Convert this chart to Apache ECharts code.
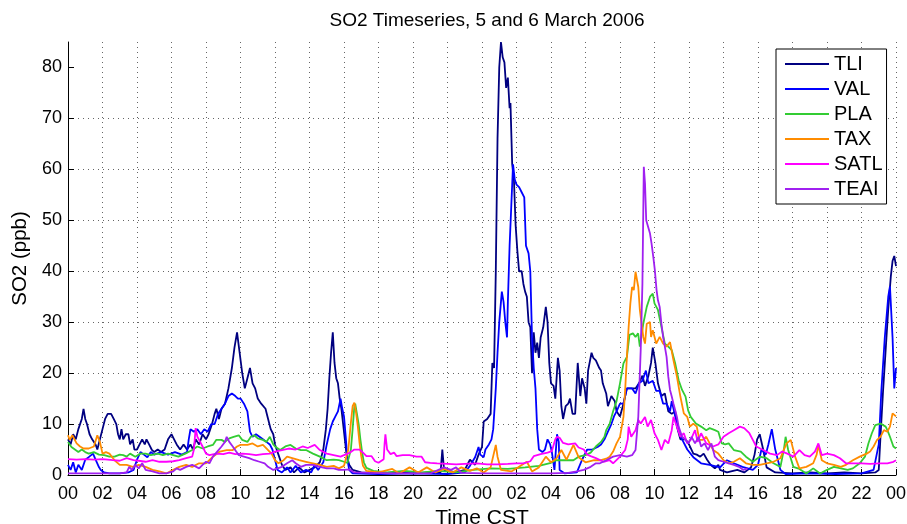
<!DOCTYPE html>
<html>
<head>
<meta charset="utf-8">
<script src="https://cdn.jsdelivr.net/npm/echarts@6/dist/echarts.min.js"></script>
<style>html,body{margin:0;padding:0;background:#fff}#c{width:907px;height:524px}</style>
</head>
<body>
<div id="c"></div>
<script>
// hours since 00 CST on 5 March 2006, SO2 in ppb
const TLI = [[0,7],[0.15,6],[0.3,8],[0.45,7],[0.6,9],[0.8,11],[0.9,13],[1.0,11],[1.1,10],[1.25,8],[1.4,7],[1.6,6],[1.7,5],[1.85,7],[2.0,9],[2.15,11],[2.3,12],[2.5,12],[2.65,11],[2.8,10],[2.9,8],[3.0,7],[3.1,9],[3.2,7],[3.35,8],[3.5,8],[3.6,6],[3.75,7],[3.85,5],[4.0,5],[4.15,6],[4.3,7],[4.45,6],[4.55,7],[4.7,6],[4.85,5],[5.0,4.5],[5.2,5],[5.4,4.5],[5.6,5],[5.8,7],[6.0,8],[6.15,7],[6.3,6],[6.5,5],[6.7,6],[6.9,5],[7.1,6],[7.25,5],[7.4,7],[7.6,6],[7.8,8],[8.0,7],[8.15,8],[8.35,10],[8.5,12],[8.6,13],[8.75,11],[8.9,13],[9.1,14],[9.3,17],[9.5,21],[9.65,25],[9.8,28],[9.95,24],[10.1,20],[10.25,17],[10.4,19],[10.55,21],[10.7,18],[10.85,17],[11.0,15],[11.2,14],[11.45,13],[11.6,11],[11.75,9],[11.9,8],[12.0,6],[12.2,4],[12.4,2],[12.6,1],[12.9,1.5],[13.1,0.5],[13.4,1.5],[13.7,0.5],[14.0,1],[14.3,1.5],[14.6,2.5],[14.8,5],[14.95,9],[15.05,13],[15.15,19],[15.25,24],[15.35,28],[15.45,22],[15.55,19],[15.65,18],[15.75,15],[15.85,13],[15.95,10],[16.05,7],[16.15,4],[16.3,2],[16.5,1],[17.0,0.5],[18,0.3],[19,0.5],[20,0.3],[21,0.5],[21.6,0.5],[21.7,5],[21.8,1],[22.5,0.5],[23.0,1],[23.3,3],[23.6,2],[23.8,4],[24.0,5.5],[24.1,10.5],[24.3,11],[24.5,12],[24.6,22],[24.7,21],[24.8,40],[24.9,66],[25.0,80],[25.1,85],[25.2,82],[25.3,81],[25.4,76],[25.5,78],[25.6,72],[25.65,73],[25.75,61],[25.85,58],[25.95,49],[26.05,44],[26.15,40],[26.3,40],[26.4,37.5],[26.5,36],[26.6,35],[26.7,30],[26.8,29],[26.9,20],[27.0,28],[27.1,24],[27.2,26],[27.3,23],[27.4,27],[27.55,29],[27.7,33],[27.8,30],[27.9,22],[28.0,18],[28.15,17.5],[28.25,15],[28.4,23],[28.5,20.5],[28.6,13.5],[28.7,11],[28.85,13.5],[29.0,14],[29.1,15],[29.25,12],[29.4,12],[29.55,22],[29.7,15.5],[29.8,19],[29.95,17],[30.05,14],[30.15,20.5],[30.35,24],[30.45,23],[30.6,22.5],[30.8,21],[30.9,20.5],[31.0,18],[31.2,16],[31.3,13.5],[31.5,15.5],[31.7,14.5],[31.8,12.5],[32.0,11.5],[32.2,14],[32.4,17],[32.6,17],[32.9,17],[33.1,18],[33.3,19.5],[33.45,17.5],[33.65,19.5],[33.8,22],[33.9,25],[34.05,22],[34.2,18],[34.4,15.5],[34.6,16],[34.8,12.5],[35.0,12],[35.2,12.5],[35.3,9.5],[35.5,7],[35.8,7],[36.0,6],[36.25,4.2],[36.45,4],[36.65,3.6],[36.85,4.2],[37.05,3],[37.25,2],[37.5,1.3],[37.7,2],[37.8,1],[38.2,0.5],[38.8,1],[39.2,0.5],[39.6,1.5],[39.8,4],[39.95,7],[40.1,8],[40.3,5],[40.5,1.5],[41.0,0.5],[42,0.3],[43,0.5],[44,0.3],[45,0.5],[46,0.3],[46.8,0.5],[47.0,1],[47.1,7.5],[47.25,16.5],[47.4,24.5],[47.55,32.5],[47.7,39],[47.8,42],[47.9,43],[48,41]];
const VAL = [[0,2],[0.15,1],[0.3,2.5],[0.45,0.5],[0.6,2],[0.8,1],[1.0,3],[1.2,3.5],[1.45,4.2],[1.6,3],[1.8,1.5],[1.9,1],[2.1,0.5],[2.4,0.3],[3.0,0.3],[3.5,0.5],[3.8,1],[4.0,3],[4.2,4.5],[4.4,4],[4.6,3.5],[4.8,4.5],[5.0,4],[5.4,4.5],[5.8,4],[6.2,4.5],[6.6,4],[6.9,4.5],[7.0,7],[7.1,9],[7.3,8.5],[7.5,9],[7.7,8],[7.9,9],[8.1,8.5],[8.3,10],[8.5,10],[8.7,12],[8.9,13],[9.1,14],[9.3,15.5],[9.5,16],[9.7,15.5],[9.85,15],[10.0,15],[10.2,14],[10.4,12.5],[10.55,8.5],[10.7,7.5],[10.9,8],[11.1,7.5],[11.3,7],[11.5,6.5],[11.7,6],[11.85,5],[12.0,3],[12.15,1],[12.4,0.5],[12.7,1.5],[12.9,0.5],[13.2,1.8],[13.5,0.5],[13.8,1],[14.1,0.5],[14.3,2],[14.5,1],[14.8,2.5],[15.0,6],[15.2,9],[15.35,10.5],[15.5,11.5],[15.65,12.5],[15.8,15],[15.9,13],[16.0,11.5],[16.1,7.5],[16.2,3],[16.3,1],[16.5,0.3],[18,0.2],[20,0.3],[22,0.2],[23.0,0.5],[23.3,1.8],[23.6,3.5],[23.8,5.5],[23.9,4],[24.1,3.5],[24.2,5],[24.4,6],[24.55,7],[24.65,9],[24.8,17],[24.9,24],[25.0,30],[25.15,36],[25.25,34],[25.35,30],[25.45,27],[25.5,34],[25.6,45],[25.7,53],[25.8,61],[25.9,58],[26.0,57],[26.15,56.5],[26.3,55.5],[26.45,54.5],[26.55,45],[26.7,43.5],[26.8,40],[26.9,27],[27.0,21],[27.1,17],[27.2,9],[27.3,5],[27.5,4.5],[27.65,5],[27.8,7],[27.95,6],[28.05,4.5],[28.2,1],[28.35,8],[28.45,6.5],[28.5,1],[28.8,0.3],[29.5,0.5],[29.8,3],[30.1,5],[30.4,5],[30.7,5.5],[30.9,6],[31.1,7],[31.3,8.5],[31.5,10],[31.65,11.5],[31.8,12.5],[32.0,14],[32.2,14],[32.4,17],[32.7,17],[32.9,16],[33.1,18],[33.3,18.5],[33.5,20.5],[33.65,18],[33.9,18.5],[34.1,16.5],[34.3,16.5],[34.5,14],[34.7,14],[34.9,12.5],[35.0,14.5],[35.2,11.5],[35.4,8.5],[35.6,7],[35.9,5],[36.25,3.5],[36.7,2.3],[37.2,2],[37.8,1.5],[38.2,2.9],[38.6,2.3],[39.1,1.6],[39.7,1],[40.0,2],[40.2,5],[40.45,4],[40.6,6],[40.8,9],[41.0,5],[41.3,1],[41.6,0.2],[43,0.3],[44.5,0.2],[46.0,0.3],[46.7,1],[47.0,6],[47.15,16.5],[47.35,27],[47.55,35],[47.65,37],[47.8,27],[47.9,17],[48,21]];
const PLA = [[0,6.5],[0.2,5.5],[0.4,5],[0.6,4.5],[0.8,5],[1.0,4.5],[1.2,4.2],[1.5,4.5],[1.8,4],[2.1,3.9],[2.4,3.6],[2.7,3.6],[3.0,4],[3.2,3.9],[3.4,3.6],[3.6,4.2],[3.9,3.6],[4.2,4.2],[4.5,4.2],[4.8,3.9],[5.2,4.2],[5.5,3.9],[5.8,4.2],[6.1,3.9],[6.4,3.6],[6.8,4.2],[7.2,4.9],[7.5,5.6],[7.8,5.2],[8.1,5.6],[8.4,5.9],[8.6,6.9],[8.9,6.9],[9.1,6.5],[9.35,7.2],[9.6,7.5],[9.9,7.8],[10.1,6.9],[10.4,6.5],[10.6,7.5],[10.8,7.8],[11.0,7.2],[11.3,6.9],[11.5,6.5],[11.7,7.5],[11.9,6],[12.0,5.6],[12.3,4.9],[12.6,5.6],[12.9,5.9],[13.2,5.2],[13.5,4.9],[13.8,4.9],[14.2,4.2],[14.6,3.6],[15.0,2.9],[15.4,3],[15.7,2.9],[16.0,2.6],[16.2,2.4],[16.4,5],[16.5,9],[16.6,13.5],[16.65,14],[16.75,12],[16.85,10],[16.95,7],[17.05,4.5],[17.15,2.5],[17.3,1.4],[17.7,0.8],[18.5,0.5],[19.5,0.8],[20.5,0.5],[21.5,0.8],[22.5,0.5],[23.5,1],[24.5,1.3],[25.5,1.2],[26.5,1.5],[27.3,1.8],[28.0,2.4],[28.3,2.9],[28.8,2.9],[29.3,2.9],[29.6,3.6],[30.0,3.9],[30.3,4.4],[30.6,5.6],[30.9,6.5],[31.1,7.5],[31.2,8.8],[31.4,10],[31.6,12.5],[31.8,14.5],[32.0,18],[32.2,21.9],[32.4,23.2],[32.55,27.5],[32.75,27.8],[32.9,27.1],[33.05,27.8],[33.15,25.2],[33.35,29.7],[33.55,33],[33.74,35],[33.9,35.6],[34.0,33.7],[34.2,32.4],[34.4,29.1],[34.6,25.8],[34.8,25.2],[35.0,24.5],[35.2,21.9],[35.4,18.6],[35.6,16.7],[35.8,15.4],[35.95,12.7],[36.1,11.4],[36.4,10.1],[36.7,9.5],[37.0,8.8],[37.2,9.2],[37.5,8.8],[37.7,8.5],[37.9,6.2],[38.1,6],[38.3,6.2],[38.6,4.9],[39.0,4.6],[39.3,3.6],[39.7,2.6],[40.1,3.6],[40.5,3.3],[40.9,2.3],[41.3,1.6],[41.5,5],[41.6,7.5],[41.75,4.9],[42.05,1.6],[42.4,1.2],[42.8,0.3],[43.2,1.3],[43.6,0.3],[44.0,1],[44.4,1.6],[44.8,1.3],[45.2,1],[45.5,1.3],[45.9,2.3],[46.2,3.6],[46.4,6.2],[46.6,8.2],[46.8,9.8],[47.1,10.1],[47.4,9.5],[47.5,8.8],[47.65,7.5],[47.85,5.6],[48,5.2]];
const TAX = [[0,7.8],[0.1,6.9],[0.25,7.8],[0.5,6.2],[0.7,5.6],[0.9,5.2],[1.2,5.2],[1.5,5.6],[1.7,7.8],[1.85,6.5],[2.0,4.2],[2.2,4.5],[2.4,4.2],[2.7,2.9],[3.0,2],[3.4,2],[3.75,1.6],[4.1,2],[4.5,1.6],[4.9,1],[5.3,0.7],[5.7,0.3],[6.1,1],[6.45,1.6],[6.85,2],[7.2,1.6],[7.6,2.3],[8.0,2.3],[8.4,3.6],[8.8,4.6],[9.2,4.9],[9.55,4.9],[9.8,5.6],[10.0,5.9],[10.4,5.9],[10.7,6.2],[11.0,5.6],[11.3,5.9],[11.6,4.9],[11.8,4.2],[12.0,2.9],[12.2,2.3],[12.5,2.9],[12.7,3.6],[13.0,3.3],[13.4,2.9],[13.8,2.6],[14.2,2.3],[14.6,2],[15.0,1.6],[15.4,1.8],[15.7,1.3],[16.0,1.8],[16.25,5],[16.4,10.3],[16.5,13.5],[16.6,14.2],[16.7,12.2],[16.8,9.6],[16.9,6.3],[17.0,3.7],[17.1,1.8],[17.3,0.8],[18,0.5],[18.8,1.2],[19.2,0.3],[19.8,1.5],[20.3,0.5],[20.8,1.5],[21.3,0.5],[21.8,1.2],[22.3,0.5],[22.8,1.5],[23.3,0.8],[23.7,1.3],[24.1,0.5],[24.5,1.5],[24.8,5.9],[24.9,3.6],[25.1,1],[25.7,0.7],[26.1,1.5],[26.6,2.6],[26.9,0.7],[27.3,1.5],[27.7,3.6],[28.0,2.5],[28.3,3.2],[28.6,4.9],[28.9,3],[29.3,5.9],[29.6,3.5],[30.0,2.5],[30.5,2.9],[30.9,2.9],[31.2,3.2],[31.4,3.6],[31.6,4.6],[31.8,6.2],[32.0,7.5],[32.2,11.4],[32.3,16.7],[32.4,23.2],[32.5,29],[32.6,33.7],[32.7,36.9],[32.8,36.3],[32.9,39.9],[33.0,40.2],[33.06,36.9],[33.15,32.4],[33.25,29.7],[33.35,27.1],[33.45,25.8],[33.55,29.7],[33.74,30],[33.8,27.1],[33.9,28.4],[34.1,25.8],[34.3,27.1],[34.5,25.8],[34.7,25.2],[34.9,26.1],[35.1,22.5],[35.3,19.3],[35.5,15.4],[35.7,12.1],[35.9,11.4],[36.05,9.5],[36.25,10.1],[36.45,9.5],[36.6,6.9],[36.8,6.9],[37.0,7.5],[37.2,6.2],[37.4,4.9],[37.7,4.2],[38.0,2.9],[38.3,2.3],[38.6,2.6],[38.95,3.3],[39.3,2.3],[39.7,2],[40.1,2],[40.5,2.3],[40.9,2.6],[41.3,3.3],[41.5,5],[41.66,6.2],[41.9,6.9],[42.15,3.6],[42.4,1.3],[42.8,1.6],[43.2,2.3],[43.4,4],[43.5,5.9],[43.7,2.9],[44.0,2.3],[44.4,2],[44.8,1.6],[45.1,2],[45.5,2.9],[45.9,3.6],[46.3,4.2],[46.5,4.6],[46.7,5.6],[46.9,6.9],[47.1,7.5],[47.3,8.8],[47.5,8.5],[47.65,9.5],[47.8,12.1],[47.9,12.1],[48,11.5]];
const SATL = [[0,3.1],[0.5,3],[1.0,3.1],[1.5,3],[2.0,3.1],[2.6,2.9],[3.0,2.8],[3.4,3.3],[3.8,2.9],[4.1,2.8],[4.5,2.6],[4.9,2.9],[5.3,2.6],[5.7,2.6],[6.1,2.7],[6.45,2.9],[6.85,3.3],[7.2,3.6],[7.3,5],[7.4,9.2],[7.5,7.5],[7.6,6.9],[7.8,5.6],[8.0,4.2],[8.2,3.9],[8.6,4.2],[9.0,4.1],[9.35,4.4],[9.7,4.1],[10.1,4.2],[10.5,4.1],[10.9,3.9],[11.3,4.1],[11.7,4.2],[12.0,4.6],[12.4,4.9],[12.8,5.2],[13.2,5],[13.6,5.6],[13.9,5.3],[14.3,5.9],[14.6,4.9],[15.0,4.2],[15.4,3.9],[15.8,3.6],[16.0,3.9],[16.35,4.4],[16.6,5],[16.9,5],[17.1,4.4],[17.3,3.7],[17.6,3.7],[17.8,2.7],[18.0,2.4],[18.3,3.1],[18.35,6],[18.4,8],[18.5,5],[18.7,4.1],[18.9,4.4],[19.05,3.7],[19.4,3.9],[19.8,3.9],[20.2,3.6],[20.5,3.6],[20.7,2.5],[21.0,2.4],[21.4,2.3],[22.0,2.2],[22.5,2.1],[23.0,2.2],[23.7,2.3],[24.3,2.1],[24.9,2.1],[25.5,2.2],[26.0,2.3],[26.4,2.3],[26.8,2.7],[27.0,3.7],[27.4,4.1],[27.8,4.4],[28.05,4.7],[28.25,7],[28.35,7.5],[28.5,7.3],[28.7,6.3],[29.0,6],[29.4,6.2],[29.6,5.4],[29.9,5],[30.1,4],[30.3,3.7],[30.6,3.3],[31.05,2.6],[31.4,2.9],[31.6,2.3],[32.0,3.6],[32.3,4.9],[32.45,7],[32.5,9.5],[32.65,7.5],[32.9,8.8],[33.06,10.8],[33.2,10.1],[33.45,11.4],[33.6,9.5],[33.8,10.8],[34.0,8.2],[34.2,6.9],[34.4,4.9],[34.6,6.9],[34.8,6.2],[35.0,8.8],[35.1,11.4],[35.3,9.5],[35.5,7.5],[35.7,8.2],[35.9,6.2],[36.1,6.9],[36.35,8.8],[36.5,6.5],[36.7,8.2],[37.0,6.2],[37.4,5.6],[37.7,6],[38.0,7.5],[38.3,8.2],[38.6,8.8],[38.95,9.5],[39.2,9.2],[39.5,8.2],[39.7,6.9],[39.9,5.6],[40.3,4.9],[40.7,4.2],[41.1,3.9],[41.4,4.6],[41.7,4.2],[42.05,3.6],[42.4,4.9],[42.7,3.9],[43.0,3.6],[43.3,4.6],[43.5,6.2],[43.7,3.9],[44.0,4.2],[44.4,3.9],[44.75,3.3],[45.1,2.3],[45.5,2.3],[46.0,2.3],[46.5,2.2],[47.0,2.3],[47.5,2.3],[47.85,2.6],[48,2.9]];
const TEAI = [[0,0.3],[1,0.3],[2,0.3],[3,0.3],[3.4,0.5],[3.55,1.6],[3.7,1],[3.9,2],[4.1,1.3],[4.3,2.3],[4.5,1],[4.9,0.7],[5.3,0.3],[5.7,0.3],[6.1,0.7],[6.3,1.3],[6.5,1],[6.85,1.6],[7.2,2],[7.6,1.3],[7.8,2],[8.0,2.6],[8.2,2.3],[8.4,3.6],[8.65,4.6],[8.9,5.6],[9.1,6.5],[9.2,7.5],[9.35,6.5],[9.55,5.6],[9.75,4.6],[9.9,3.9],[10.2,3.6],[10.5,3.3],[10.8,2.9],[11.1,2.6],[11.4,2.3],[11.6,1.6],[11.9,1],[12.15,1.3],[12.4,1.6],[12.7,2.3],[13.0,2.9],[13.2,2.3],[13.5,1.6],[13.8,2],[14.2,2],[14.6,1.6],[15.0,1.3],[15.4,1.3],[15.7,1],[16.0,1],[16.3,1.1],[16.6,0.5],[17.5,0.4],[19,0.3],[21,0.3],[21.8,1.5],[22.2,1],[22.5,1.5],[22.8,0.4],[24,0.3],[26,0.3],[28,0.3],[29.0,0.4],[29.5,0.7],[29.9,1],[30.3,1.6],[30.6,2.3],[30.84,2.3],[31.2,2.9],[31.6,3.6],[32.0,3.9],[32.4,3.6],[32.7,3.9],[32.9,4.9],[33.06,11.4],[33.2,24.5],[33.3,37.6],[33.38,60.5],[33.45,57.2],[33.52,50],[33.62,50],[33.74,47.4],[33.83,45.4],[33.93,42.8],[34.02,40.2],[34.12,36.3],[34.2,34.3],[34.3,33],[34.4,29.7],[34.5,27.1],[34.6,25.2],[34.7,23.2],[34.8,19.3],[34.9,16.7],[35.0,15.4],[35.1,14],[35.2,12.7],[35.3,11.4],[35.4,9.5],[35.6,7.5],[35.8,6.9],[35.96,6.2],[36.15,7.5],[36.35,6.2],[36.55,7.5],[36.7,5.6],[36.9,6.2],[37.1,4.9],[37.3,6.2],[37.5,3.6],[37.7,2.9],[38.0,2.6],[38.3,2.3],[38.6,2],[38.9,1.6],[39.15,1],[39.4,1.3]];

const seriesNames = ['TLI','VAL','PLA','TAX','SATL','TEAI'];
const seriesData = [TLI, VAL, PLA, TAX, SATL, TEAI];
const seriesColors = ['#000080','#0000ff','#33cc33','#ff8c00','#ff00ff','#a020f0'];
const yTicks = [0,10,20,30,40,50,60,70,80];

const FONT = 'Liberation Sans, Arial, Helvetica, sans-serif';
const chart = echarts.init(document.getElementById('c'), null, {renderer:'canvas'});
chart.setOption({
  backgroundColor:'#fff',
  animation:false,
  textStyle:{fontFamily:FONT},
  title:{text:'SO2 Timeseries, 5 and 6 March 2006', left:482, top:6, textAlign:'center',
    textStyle:{fontFamily:FONT, fontSize:19, fontWeight:'normal', color:'#000'}},
  grid:{left:68, right:11, top:42, bottom:49, containLabel:false, outerBoundsMode:'none'},
  legend:{
    orient:'vertical', left:776, top:49, padding:[5,4,5,9], itemGap:5,
    icon:'rect', itemWidth:44, itemHeight:2, itemTextGap:5,
    backgroundColor:'#fff', borderColor:'#000', borderWidth:1, borderRadius:0,
    textStyle:{fontFamily:FONT, fontSize:20, lineHeight:20, color:'#000'},
    data:seriesNames
  },
  xAxis:{
    type:'value', min:0, max:48, interval:2,
    name:'Time CST', nameLocation:'middle', nameGap:28,
    nameTextStyle:{fontFamily:FONT, fontSize:21, color:'#000', verticalAlign:'top'},
    axisLine:{show:true, onZero:false, lineStyle:{color:'#000', width:1}},
    axisTick:{show:true, inside:true, length:6, lineStyle:{color:'#000'}},
    axisLabel:{fontFamily:FONT, fontSize:18, color:'#000', margin:10,
      formatter:function(v){const h=Math.round(v)%24; return (h<10?'0':'')+h;}},
    splitLine:{show:true, showMinLine:false, lineStyle:{color:'#666', type:[1,4], width:1}}
  },
  yAxis:{
    type:'value', min:0, max:85, interval:10,
    name:'SO2 (ppb)', nameLocation:'middle', nameGap:35, nameRotate:90,
    nameTextStyle:{fontFamily:FONT, fontSize:20.5, color:'#000'},
    axisLine:{show:true, onZero:false, lineStyle:{color:'#000', width:1}},
    axisTick:{show:true, inside:true, length:6, lineStyle:{color:'#000'}, customValues:yTicks},
    axisLabel:{fontFamily:FONT, fontSize:18, color:'#000', margin:6, customValues:yTicks},
    splitLine:{show:true, showMinLine:false, showMaxLine:false, lineStyle:{color:'#666', type:[1,4], width:1}}
  },
  series: seriesNames.map(function(n,i){
    return {name:n, type:'line', data:seriesData[i], symbol:'none', showSymbol:false,
      lineStyle:{color:seriesColors[i], width:1.8}, itemStyle:{color:seriesColors[i]},
      clip:true, z:2+i};
  })
});
</script>
</body>
</html>
